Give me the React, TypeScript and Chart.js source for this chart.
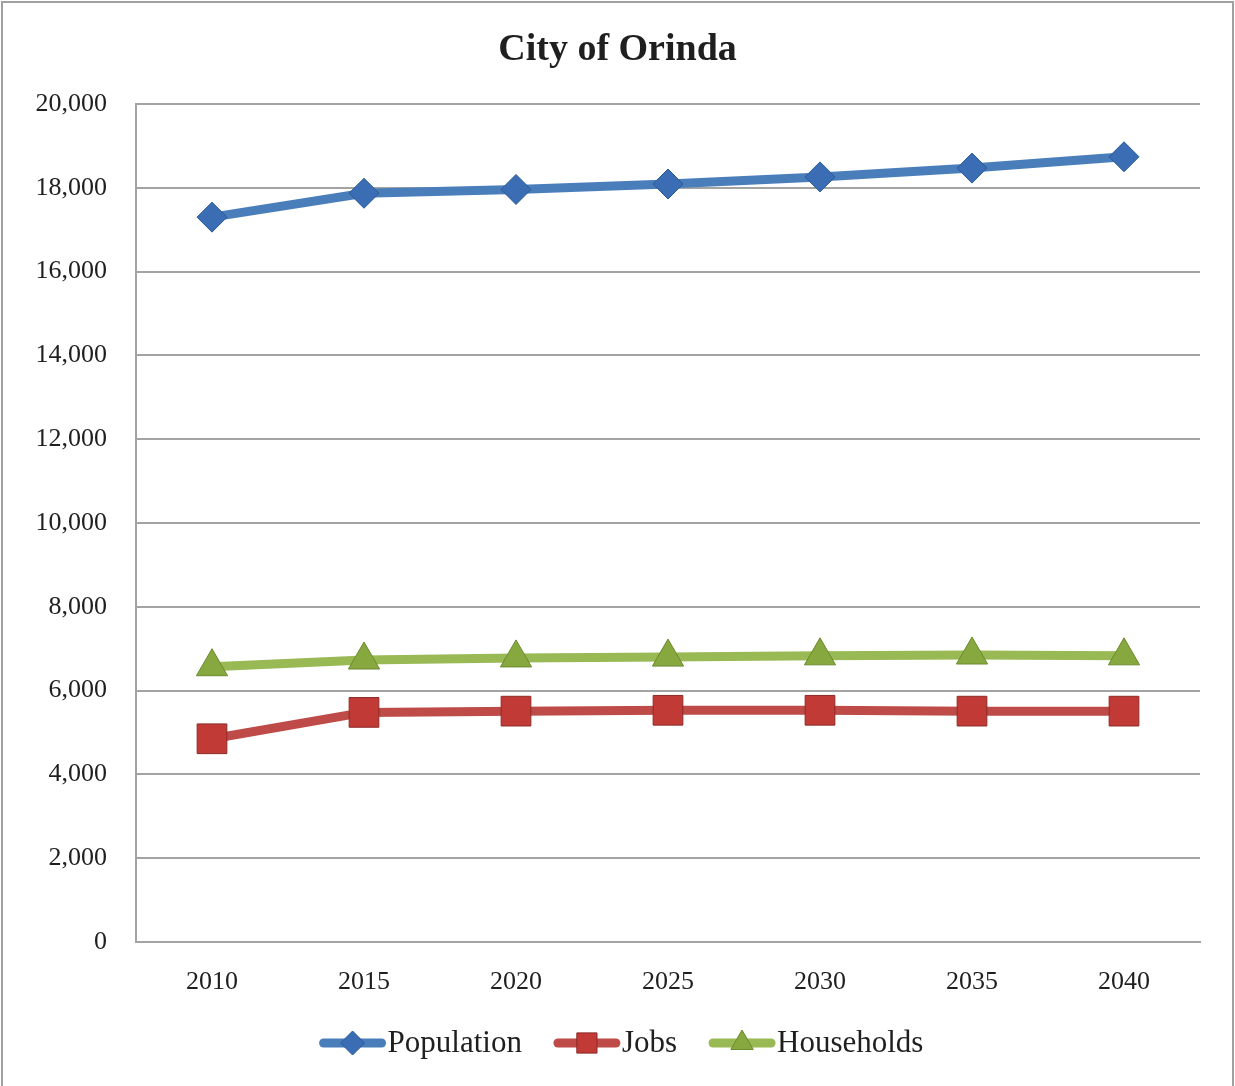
import React, { useEffect, useRef } from 'react';
import { Chart, registerables } from 'chart.js';

Chart.register(...registerables);

const years = ['2010', '2015', '2020', '2025', '2030', '2035', '2040'];
const population = [17300, 17870, 17960, 18090, 18260, 18470, 18740];
const jobs = [4850, 5480, 5510, 5530, 5530, 5510, 5510];
const households = [6570, 6730, 6780, 6800, 6830, 6850, 6830];
const seriesLabels = ['Population', 'Jobs', 'Households'];
const yMax = 20000;
const yStep = 2000;
const titleText = 'City of Orinda';

const FONT = '"Liberation Serif", "Times New Roman", serif';
const TEXT = '#1f1f1f';
const GRID = '#a3a3a3';

const lineColors = ['#4A7EBB', '#BE4B48', '#98B954'];
const markerFills = ['#3A6DB4', '#C13A36', '#86A83E'];
const markerBorders = ['#2B5B94', '#8C2A27', '#6B8A2E'];
const markerStyles = ['rectRot', 'rect', 'triangle'];
const markerRadii = [15, 21, 18];
const legendMarkerScale = [0.8, 0.68, 0.72];

function drawMarker(ctx: CanvasRenderingContext2D, style: string, x: number, y: number, r: number) {
  ctx.beginPath();
  if (style === 'rectRot') {
    ctx.moveTo(x - r, y);
    ctx.lineTo(x, y - r);
    ctx.lineTo(x + r, y);
    ctx.lineTo(x, y + r);
  } else if (style === 'rect') {
    const s = Math.SQRT1_2 * r;
    ctx.rect(x - s, y - s, 2 * s, 2 * s);
  } else {
    ctx.moveTo(x, y - r);
    ctx.lineTo(x + r * Math.sin(Math.PI / 3), y + r / 2);
    ctx.lineTo(x - r * Math.sin(Math.PI / 3), y + r / 2);
  }
  ctx.closePath();
  ctx.fill();
  ctx.stroke();
}

const framePlugin = {
  id: 'frame',
  beforeDraw(chart: any) {
    const ctx = chart.ctx;
    ctx.save();
    ctx.fillStyle = '#ffffff';
    ctx.fillRect(0, 0, chart.width, chart.height);
    ctx.strokeStyle = '#a0a0a0';
    ctx.lineWidth = 2;
    ctx.strokeRect(2, 2, chart.width - 4, chart.height + 10);
    ctx.restore();
  },
};

const legendPlugin = {
  id: 'lineLegend',
  afterDraw(chart: any) {
    const ctx: CanvasRenderingContext2D = chart.ctx;
    const ds = chart.data.datasets;
    ctx.save();
    ctx.font = `31px ${FONT}`;
    const symW = 66;
    const gap = 2;
    const itemGap = 32;
    const widths = ds.map((d: any) => symW + gap + ctx.measureText(d.label).width);
    const total = widths.reduce((a: number, b: number) => a + b, 0) + itemGap * (ds.length - 1);
    let x = chart.width / 2 + 4 - total / 2;
    const y = chart.height - 43;
    ds.forEach((d: any, i: number) => {
      ctx.strokeStyle = d.borderColor;
      ctx.lineWidth = 9;
      ctx.lineCap = 'round';
      ctx.beginPath();
      ctx.moveTo(x + 4, y);
      ctx.lineTo(x + symW - 4, y);
      ctx.stroke();
      ctx.lineCap = 'butt';
      ctx.fillStyle = d.pointBackgroundColor;
      ctx.strokeStyle = d.pointBorderColor;
      ctx.lineWidth = 1;
      drawMarker(ctx, d.pointStyle, x + symW / 2, y, d.pointRadius * legendMarkerScale[i]);
      ctx.fillStyle = TEXT;
      ctx.textAlign = 'left';
      ctx.textBaseline = 'middle';
      ctx.fillText(d.label, x + symW + gap, y + 1);
      x += widths[i] + itemGap;
    });
    ctx.restore();
  },
};

export default function App() {
  const ref = useRef<HTMLCanvasElement | null>(null);

  useEffect(() => {
    if (!ref.current) return;
    const seriesData = [population, jobs, households];
    const chart = new Chart(ref.current, {
      type: 'line',
      data: {
        labels: years,
        datasets: seriesData.map((values, i) => ({
          label: seriesLabels[i],
          data: values,
          borderColor: lineColors[i],
          backgroundColor: lineColors[i],
          borderWidth: 9,
          tension: 0,
          fill: false,
          pointStyle: markerStyles[i] as any,
          pointRadius: markerRadii[i],
          pointBackgroundColor: markerFills[i],
          pointBorderColor: markerBorders[i],
          pointBorderWidth: 1,
        })),
      },
      options: {
        responsive: false,
        animation: false,
        events: [],
        layout: { padding: { left: 35, right: 35, top: 0, bottom: 84 } },
        plugins: {
          legend: { display: false },
          tooltip: { enabled: false },
          title: {
            display: true,
            text: titleText,
            color: TEXT,
            font: { family: FONT, size: 38, weight: 'bold' },
            padding: { top: 27, bottom: 31.4 },
          },
        },
        scales: {
          x: {
            offset: true,
            grid: { display: false, drawTicks: false },
            border: { display: true, color: GRID, width: 2 },
            ticks: {
              color: TEXT,
              font: { family: FONT, size: 26 },
              padding: 25,
              maxRotation: 0,
            },
            afterFit: (scale: any) => {
              scale.height = 60;
            },
          },
          y: {
            min: 0,
            max: yMax,
            grid: { color: GRID, lineWidth: 2, drawTicks: false },
            border: { display: true, color: GRID, width: 2 },
            ticks: {
              stepSize: yStep,
              color: TEXT,
              font: { family: FONT, size: 26 },
              padding: 29,
            },
            afterFit: (scale: any) => {
              scale.width = 101;
            },
          },
        },
      },
      plugins: [framePlugin, legendPlugin],
    });
    return () => chart.destroy();
  }, []);

  return (
    <div style={{ position: 'absolute', left: 0, top: 0, width: 1235, height: 1086 }}>
      <canvas ref={ref} width={1235} height={1086} style={{ width: 1235, height: 1086 }} />
    </div>
  );
}
